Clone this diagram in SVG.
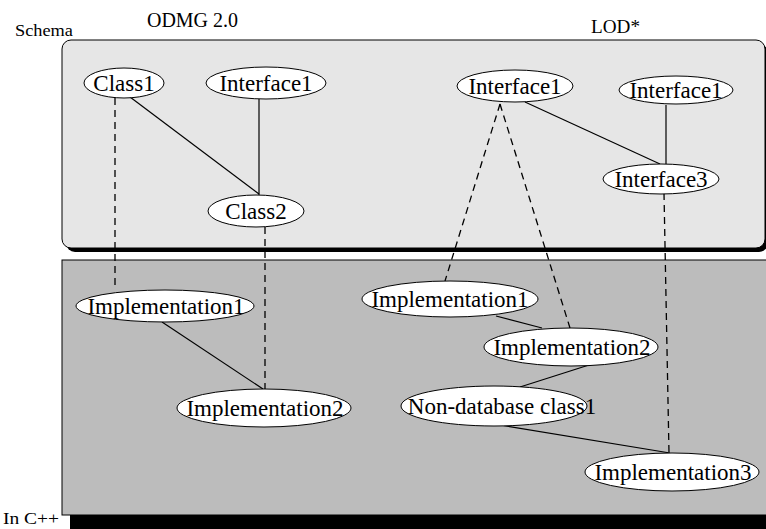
<svg xmlns="http://www.w3.org/2000/svg" width="766" height="529" viewBox="0 0 766 529">
<style>
text{font-family:"Liberation Serif","Times New Roman",serif;fill:#000}
.n ellipse{fill:#fff;stroke:#000;stroke-width:1}
.n text{font-size:23px;text-anchor:middle}
.s{stroke:#000;stroke-width:1.2;fill:none}
.d{stroke:#000;stroke-width:1.3;fill:none;stroke-dasharray:7 5}
.lbl{font-size:17px}
</style>
<rect width="766" height="529" fill="#fff"/>
<g id="schema-area">
<rect x="66" y="44" width="702" height="208" rx="9" fill="#000"/>
<rect x="62" y="40" width="703" height="208" rx="9" fill="#e6e6e6" stroke="#000" stroke-width="1"/>
</g>
<g id="cpp-area">
<rect x="70" y="268" width="700" height="270" fill="#000"/>
<rect x="62" y="260" width="710" height="255" fill="#bcbcbc" stroke="#000" stroke-width="1"/>
</g>
<text x="15" y="36" class="lbl" textLength="58" lengthAdjust="spacingAndGlyphs">Schema</text>
<text x="147" y="27" style="font-size:20px" textLength="91" lengthAdjust="spacingAndGlyphs">ODMG 2.0</text>
<text x="591" y="33" style="font-size:19px" textLength="49" lengthAdjust="spacingAndGlyphs">LOD*</text>
<text x="3" y="524" style="font-size:16px" textLength="56" lengthAdjust="spacingAndGlyphs">In C++</text>
<g id="connectors">
<line class="s" x1="130" y1="97" x2="259" y2="194"/>
<line class="s" x1="259" y1="99" x2="259" y2="195"/>
<line class="d" x1="115" y1="98" x2="115" y2="290"/>
<line class="d" x1="265" y1="227" x2="265" y2="389"/>
<line class="s" x1="162" y1="322" x2="263" y2="389"/>
<line class="s" x1="525" y1="102" x2="660" y2="164"/>
<line class="s" x1="666" y1="105" x2="666" y2="164"/>
<line class="d" x1="500" y1="104" x2="445" y2="281"/>
<line class="d" x1="500" y1="104" x2="570" y2="328"/>
<line class="d" x1="664" y1="193" x2="669" y2="453"/>
<line class="s" x1="496" y1="316" x2="542" y2="328"/>
<line class="s" x1="589" y1="365" x2="520" y2="387"/>
<line class="s" x1="500" y1="425" x2="670" y2="453"/>
</g>
<g id="class1" class="n"><ellipse cx="124" cy="83" rx="40" ry="15"/><text x="124" y="91">Class1</text></g>
<g id="interface1-odmg" class="n"><ellipse cx="266" cy="83" rx="60" ry="16"/><text x="266" y="91">Interface1</text></g>
<g id="class2" class="n"><ellipse cx="256" cy="211" rx="48" ry="16"/><text x="256" y="219">Class2</text></g>
<g id="impl1-odmg" class="n"><ellipse cx="165" cy="306" rx="89" ry="16"/><text x="166" y="314">Implementation1</text></g>
<g id="impl2-odmg" class="n"><ellipse cx="264" cy="408" rx="87" ry="19"/><text x="265" y="416">Implementation2</text></g>
<g id="interface1-lod-a" class="n"><ellipse cx="515" cy="86" rx="58" ry="16"/><text x="515" y="94">Interface1</text></g>
<g id="interface1-lod-b" class="n"><ellipse cx="676" cy="90" rx="57" ry="14"/><text x="676" y="98">Interface1</text></g>
<g id="interface3" class="n"><ellipse cx="661" cy="179" rx="58" ry="15"/><text x="661" y="187">Interface3</text></g>
<g id="impl1-lod" class="n"><ellipse cx="450" cy="299" rx="88" ry="18"/><text x="450" y="307">Implementation1</text></g>
<g id="impl2-lod" class="n"><ellipse cx="571" cy="347" rx="87" ry="19"/><text x="572" y="355">Implementation2</text></g>
<g id="non-db-class1" class="n"><ellipse cx="494" cy="406" rx="93" ry="20"/><text x="502" y="414">Non-database class1</text></g>
<g id="impl3" class="n"><ellipse cx="672" cy="472" rx="87" ry="19"/><text x="673" y="480">Implementation3</text></g>
</svg>
